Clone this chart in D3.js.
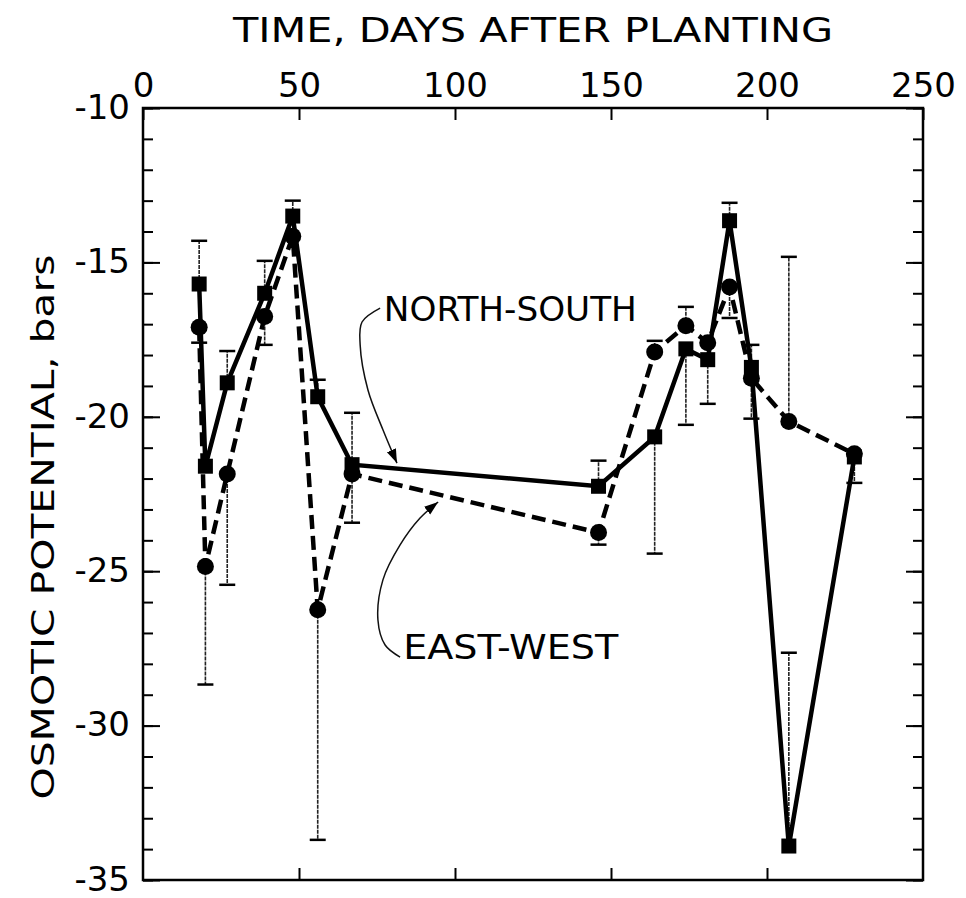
<!DOCTYPE html>
<html>
<head>
<meta charset="utf-8">
<script src="https://cdn.jsdelivr.net/npm/d3@7"></script>
<style>
	body { margin: 0; background: #fff; }
	svg text { fill: #000; }
</style>
</head>
<body>
<div class="graph"></div>
<script>
// days after planting, shared by both row orientations
var days = [18, 20, 27, 39, 48, 56, 67, 146, 164, 174, 181, 188, 195, 207, 228];
var northSouth = [-15.7, -21.6, -18.9, -16.0, -13.5, -19.35, -21.55, -22.25, -20.65, -17.8, -18.15, -13.65, -18.4, -33.9, -21.3];
var eastWest = [-17.1, -24.85, -21.85, -16.75, -14.15, -26.25, -21.85, -23.75, -17.9, -17.05, -17.6, -15.8, -18.75, -20.15, -21.2];

// error bars: [day, value at the capped end], drawn from the series point
var errNorthSouth = [[18, -14.3], [27, -17.87], [39, -14.95], [48, -13.0], [56, -18.8], [67, -19.87], [67, -23.43],
	[146, -21.42], [164, -24.43], [174, -20.26], [181, -19.58], [188, -13.07], [195, -17.67], [207, -27.64], [228, -22.14]];
var errEastWest = [[18, -17.6], [20, -28.67], [27, -25.44], [39, -17.67], [56, -33.7], [146, -24.14],
	[164, -17.54], [174, -16.44], [188, -16.8], [195, -20.06], [207, -14.82]];

var xTicks = [0, 50, 100, 150, 200, 250];
var yTicks = [-10, -15, -20, -25, -30, -35];
var yMinor = d3.range(-10, -36, -1);

// annotation arrows, in data units
var arrowNS = [[76.0, -16.48], [70.2, -16.93], [69.6, -17.67], [72.1, -19.13], [76.9, -20.42], [81.4, -21.5]];
var arrowEW = [[82.4, -27.78], [77.6, -27.39], [75.3, -26.58], [76.9, -25.28], [82.4, -24.15], [88.8, -23.28], [94.6, -22.76]];

const WIDTH = 966, HEIGHT = 898;
const LEFT = 143, RIGHT = 923, TOP = 108, BOTTOM = 880;

var x = d3.scaleLinear().domain([0, 250]).range([LEFT, RIGHT]);
var y = d3.scaleLinear().domain([-10, -35]).range([TOP, BOTTOM]);

var svg = d3.select(".graph").append("svg")
	.attr("width", WIDTH)
	.attr("height", HEIGHT);

var fmt = function(d) { return d.toString(); };
var tickFont = "DejaVu Sans, sans-serif";
var labelFont = "DejaVu Sans Condensed, DejaVu Sans, sans-serif";

// top axis with labels
svg.append("g").attr("transform", "translate(0," + TOP + ")")
	.call(d3.axisTop(x).tickValues(xTicks).tickSize(-12).tickPadding(11).tickFormat(fmt));
// bottom axis, ticks only
svg.append("g").attr("transform", "translate(0," + BOTTOM + ")")
	.call(d3.axisBottom(x).tickValues([50, 100, 150, 200]).tickSize(-12).tickFormat(""));

// left axis
svg.append("g").attr("transform", "translate(" + LEFT + ",0)")
	.call(d3.axisLeft(y).tickValues(yMinor).tickSize(-10).tickFormat(""));
var left = svg.append("g").attr("transform", "translate(" + LEFT + ",0)")
	.call(d3.axisLeft(y).tickValues(yTicks).tickSize(-17).tickPadding(13).tickFormat(fmt));
// right axis
svg.append("g").attr("transform", "translate(" + RIGHT + ",0)")
	.call(d3.axisRight(y).tickValues(yMinor).tickSize(-10).tickFormat(""));
svg.append("g").attr("transform", "translate(" + RIGHT + ",0)")
	.call(d3.axisRight(y).tickValues(yTicks).tickSize(-17).tickFormat(""));

svg.selectAll(".domain").remove();
svg.selectAll(".tick line").attr("stroke", "#000").attr("stroke-width", 2);
svg.selectAll(".tick text").attr("font-family", tickFont).attr("font-size", 34).attr("fill", "#000");
left.selectAll(".tick text").attr("dy", "0.3em");

svg.append("rect")
	.attr("x", LEFT).attr("y", TOP)
	.attr("width", RIGHT - LEFT).attr("height", BOTTOM - TOP)
	.attr("fill", "none").attr("stroke", "#000").attr("stroke-width", 2.5);

// axis titles
svg.append("text")
	.attr("x", (LEFT + RIGHT) / 2).attr("y", 42)
	.attr("text-anchor", "middle")
	.attr("font-family", labelFont)
	.attr("font-size", 33)
	.attr("textLength", 600).attr("lengthAdjust", "spacingAndGlyphs")
	.text("TIME, DAYS AFTER PLANTING");

svg.append("text")
	.attr("transform", "translate(54," + 527 + ") rotate(-90)")
	.attr("text-anchor", "middle")
	.attr("font-family", labelFont)
	.attr("font-size", 32)
	.attr("textLength", 545).attr("lengthAdjust", "spacingAndGlyphs")
	.text("OSMOTIC  POTENTIAL, bars");

// error bars
var drawErrors = function(errs, days, vals, cls) {
	var g = svg.append("g").attr("class", cls);
	errs.forEach(function(e) {
		var v = vals[days.indexOf(e[0])];
		g.append("line")
			.attr("x1", x(e[0])).attr("x2", x(e[0]))
			.attr("y1", y(v)).attr("y2", y(e[1]))
			.attr("stroke", "#222").attr("stroke-width", 1.6)
			.attr("stroke-dasharray", "4,1");
		g.append("line")
			.attr("x1", x(e[0]) - 8).attr("x2", x(e[0]) + 8)
			.attr("y1", y(e[1])).attr("y2", y(e[1]))
			.attr("stroke", "#000").attr("stroke-width", 2.5);
	});
};
drawErrors(errNorthSouth, days, northSouth, "err-ns");
drawErrors(errEastWest, days, eastWest, "err-ew");

var line = d3.line()
	.x(function(d) { return x(d[0]); })
	.y(function(d) { return y(d[1]); });

var ewData = d3.zip(days, eastWest);
var nsData = d3.zip(days, northSouth);

svg.append("path")
	.attr("d", line(ewData))
	.attr("fill", "none").attr("stroke", "#000")
	.attr("stroke-width", 4.5).attr("stroke-dasharray", "14,7");

svg.append("path")
	.attr("d", line(nsData))
	.attr("fill", "none").attr("stroke", "#000")
	.attr("stroke-width", 4.5);

svg.selectAll(".ew").data(ewData).enter().append("circle")
	.attr("class", "ew")
	.attr("cx", function(d) { return x(d[0]); })
	.attr("cy", function(d) { return y(d[1]); })
	.attr("r", 8.5).attr("fill", "#000");

svg.selectAll(".ns").data(nsData).enter().append("rect")
	.attr("class", "ns")
	.attr("x", function(d) { return x(d[0]) - 7.5; })
	.attr("y", function(d) { return y(d[1]) - 7.5; })
	.attr("width", 15).attr("height", 15).attr("fill", "#000");

// annotations
var defs = svg.append("defs");
defs.append("marker")
	.attr("id", "head")
	.attr("viewBox", "0 0 10 10")
	.attr("refX", 10).attr("refY", 5)
	.attr("markerWidth", 14).attr("markerHeight", 14)
	.attr("markerUnits", "userSpaceOnUse")
	.attr("orient", "auto")
	.append("path").attr("d", "M0,1.5 L10,5 L0,8.5 Z").attr("fill", "#000");

var curve = d3.line()
	.x(function(d) { return x(d[0]); })
	.y(function(d) { return y(d[1]); })
	.curve(d3.curveCatmullRom);

[arrowNS, arrowEW].forEach(function(a) {
	svg.append("path")
		.attr("d", curve(a))
		.attr("fill", "none").attr("stroke", "#111").attr("stroke-width", 1.5)
		.attr("marker-end", "url(#head)");
});

svg.append("text")
	.attr("x", x(77.2)).attr("y", y(-16.9))
	.attr("font-family", labelFont)
	.attr("font-size", 33)
	.attr("textLength", 253).attr("lengthAdjust", "spacingAndGlyphs")
	.text("NORTH-SOUTH");

svg.append("text")
	.attr("x", x(83.4)).attr("y", y(-27.85))
	.attr("font-family", labelFont)
	.attr("font-size", 33)
	.attr("textLength", 215).attr("lengthAdjust", "spacingAndGlyphs")
	.text("EAST-WEST");
</script>
</body>
</html>
